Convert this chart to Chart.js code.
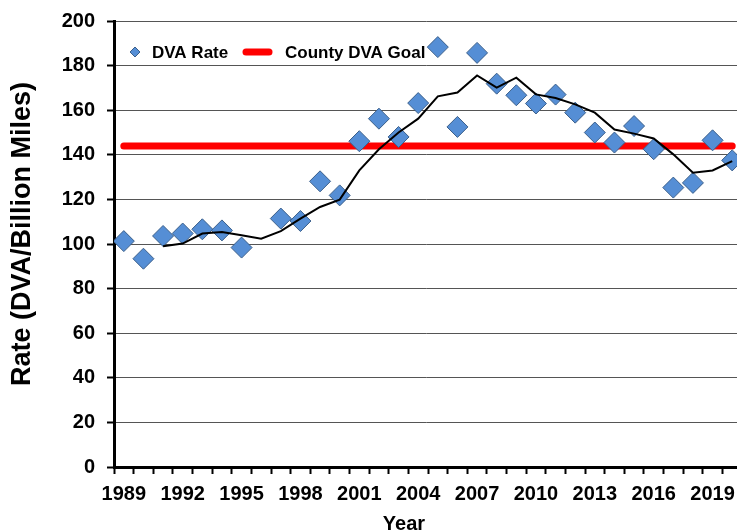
<!DOCTYPE html>
<html>
<head>
<meta charset="utf-8">
<title>DVA Rate</title>
<script src="https://cdn.jsdelivr.net/npm/chart.js@4.4.1/dist/chart.umd.min.js"></script>
<style>
    html, body { margin: 0; padding: 0; background: #ffffff; overflow: hidden; }
    /* the plot runs a little past the right edge, like the cropped original */
    #wrap { width: 737px; height: 531px; overflow: hidden; position: relative; }
    #inner { width: 749px; height: 531px; }
</style>
</head>
<body>
<div id="wrap"><div id="inner"><canvas id="dvaChart"></canvas></div></div>
<script>
// Data
const years = [1989, 1990, 1991, 1992, 1993, 1994, 1995, 1996, 1997, 1998, 1999,
    2000, 2001, 2002, 2003, 2004, 2005, 2006, 2007, 2008, 2009, 2010,
    2011, 2012, 2013, 2014, 2015, 2016, 2017, 2018, 2019, 2020];

const dvaRate = [101.3, 93.4, 103.6, 104.7, 106.6, 106.1, 98.4, null, 111.4, 110.3, 128.1,
    121.8, 146.1, 156.2, 148.0, 163.2, 188.3, 152.5, 185.7, 171.9, 166.7, 163.0,
    167.0, 158.9, 150.0, 145.5, 152.9, 142.5, 125.3, 127.4, 146.5, 137.5];

const movingAvg = [null, null, 99.0, 100.2, 104.7, 105.4, 103.9, 102.4, 105.8, 111.4, 116.6,
    119.9, 133.0, 142.5, 150.0, 156.2, 166.2, 167.9, 175.6, 170.1, 174.6, 167.1,
    165.5, 162.6, 158.9, 151.3, 149.5, 147.3, 140.2, 132.0, 133.0, 137.2];

const countyGoal = 144;

const labelYears = [1989, 1992, 1995, 1998, 2001, 2004, 2007, 2010, 2013, 2016, 2019];
const xMin = 1988.5;
const xMax = 2020.27;
const yMin = 0;
const yMax = 200;
const yStep = 20;

const diamondFill = '#558ED5';
const diamondEdge = '#3B5F8A';
const boldFont = '"Liberation Sans", Arial, sans-serif';

// Legend inside the plot and the two axis titles
const chartText = {
    id: 'chartText',
    beforeDatasetsDraw(chart) {
        const ctx = chart.ctx;
        const area = chart.chartArea;
        const y = area.top + 31;
        ctx.save();

        // diamond marker
        const cx = area.left + 21;
        const r = 5;
        ctx.beginPath();
        ctx.moveTo(cx - r, y);
        ctx.lineTo(cx, y - r);
        ctx.lineTo(cx + r, y);
        ctx.lineTo(cx, y + r);
        ctx.closePath();
        ctx.fillStyle = diamondFill;
        ctx.fill();
        ctx.lineWidth = 1;
        ctx.strokeStyle = diamondEdge;
        ctx.stroke();

        ctx.font = 'bold 17px ' + boldFont;
        ctx.fillStyle = '#000000';
        ctx.textAlign = 'left';
        ctx.textBaseline = 'middle';
        ctx.fillText('DVA Rate', area.left + 38, y + 1);

        // goal line sample
        ctx.beginPath();
        ctx.moveTo(area.left + 132, y);
        ctx.lineTo(area.left + 155, y);
        ctx.lineWidth = 7;
        ctx.lineCap = 'round';
        ctx.strokeStyle = '#FF0000';
        ctx.stroke();

        ctx.fillText('County DVA Goal', area.left + 171, y + 1);
        ctx.restore();
    },
    afterDraw(chart) {
        const ctx = chart.ctx;
        ctx.save();
        ctx.fillStyle = '#000000';

        ctx.font = 'bold 27px ' + boldFont;
        ctx.textAlign = 'center';
        ctx.textBaseline = 'middle';
        ctx.translate(23, 234);
        ctx.rotate(-Math.PI / 2);
        ctx.fillText('Rate (DVA/Billion Miles)', 0, 0);
        ctx.setTransform(1, 0, 0, 1, 0, 0);

        ctx.font = 'bold 20px ' + boldFont;
        ctx.textBaseline = 'alphabetic';
        ctx.fillText('Year', 404, 530);
        ctx.restore();
    }
};

const ctx = document.getElementById('dvaChart').getContext('2d');

new Chart(ctx, {
    type: 'line',
    data: {
        labels: years,
        datasets: [
            {
                label: 'Moving Average',
                data: movingAvg,
                borderColor: '#000000',
                borderWidth: 2,
                pointRadius: 0,
                tension: 0,
                order: 0
            },
            {
                label: 'DVA Rate',
                data: dvaRate,
                showLine: false,
                pointStyle: 'rectRot',
                pointRadius: 10.5,
                pointBackgroundColor: diamondFill,
                pointBorderColor: diamondEdge,
                pointBorderWidth: 1,
                order: 1
            },
            {
                label: 'County DVA Goal',
                data: years.map(() => countyGoal),
                borderColor: '#FF0000',
                borderWidth: 7,
                borderCapStyle: 'round',
                pointRadius: 0,
                order: 2
            }
        ]
    },
    options: {
        responsive: true,
        maintainAspectRatio: false,
        animation: false,
        events: [],
        layout: {
            padding: { top: 21, right: 0, bottom: 0, left: 0 }
        },
        plugins: {
            legend: { display: false },
            tooltip: { enabled: false }
        },
        scales: {
            x: {
                type: 'linear',
                min: xMin,
                max: xMax,
                afterBuildTicks: scale => { scale.ticks = years.map(v => ({ value: v })); },
                afterFit: scale => {
                    scale.height = 64;
                    scale.paddingLeft = 0;
                    scale.paddingRight = 0;
                },
                border: { display: true, color: '#000000', width: 3 },
                grid: {
                    offset: true,
                    drawOnChartArea: false,
                    drawTicks: true,
                    tickLength: 7,
                    tickWidth: 2,
                    tickColor: '#000000'
                },
                ticks: {
                    autoSkip: false,
                    maxRotation: 0,
                    minRotation: 0,
                    padding: 0,
                    color: '#000000',
                    font: { family: boldFont, size: 20, weight: 'bold', lineHeight: 2 },
                    callback: value => labelYears.includes(value) ? String(value) : ''
                }
            },
            y: {
                min: yMin,
                max: yMax,
                afterFit: scale => {
                    scale.width = 114;
                    scale.paddingTop = 0;
                    scale.paddingBottom = 0;
                },
                border: { display: true, color: '#000000', width: 3 },
                grid: {
                    color: '#555555',
                    lineWidth: 1,
                    borderDash: [4, 3],
                    drawTicks: true,
                    tickLength: 7,
                    tickWidth: 2,
                    tickColor: '#000000'
                },
                ticks: {
                    stepSize: yStep,
                    padding: 12,
                    color: '#000000',
                    font: { family: boldFont, size: 20, weight: 'bold' }
                }
            }
        }
    },
    plugins: [chartText]
});
</script>
</body>
</html>
